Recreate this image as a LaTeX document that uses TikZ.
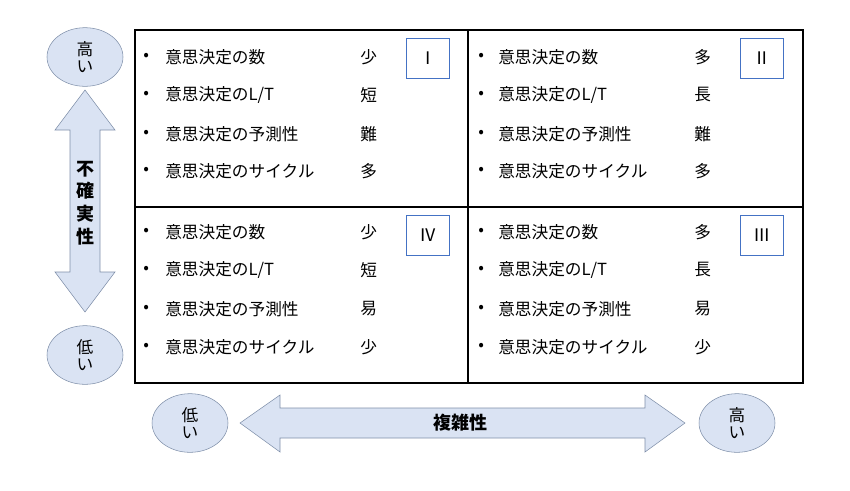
\documentclass[tikz,border=0pt]{standalone}
\usepackage{fontspec}
\usetikzlibrary{shapes.geometric}
\setmainfont{Noto Sans CJK JP}
\definecolor{lfill}{HTML}{DAE3F3}
\definecolor{ledge}{HTML}{7F8FA9}
\definecolor{rbox}{HTML}{4472C4}
\begin{document}
\begin{tikzpicture}[x=0.75pt,y=-0.75pt,
  txt/.style={anchor=west,font=\fontsize{12.5}{14}\selectfont,inner sep=0},
  rn/.style={draw=rbox,minimum width=32pt,minimum height=30pt,font=\fontsize{13}{14}\selectfont},
  oval/.style={ellipse,draw=ledge,fill=lfill,minimum width=57pt,minimum height=44pt,align=center,font=\fontsize{12.5}{13}\selectfont,inner sep=0},
  arr/.style={draw=ledge,fill=lfill}]
\useasboundingbox (0,0) rectangle (850,490);
\draw[thick] (135,30) rectangle (803,383);
\draw[thick] (468,30) -- (468,383);
\draw[thick] (135,207) -- (803,207);
\foreach \y/\lab/\val [count=\i] in {57/意思決定の数/少,95/意思決定のL\slash T/短,134/意思決定の予測性/難,171/意思決定のサイクル/多}{
  \node[txt] (tlb\i) at (143,\y) {•}; \node[txt] (tlt\i) at (165,\y) {\lab}; \node[txt] (tlv\i) at (360,\y) {\val};}
\foreach \y/\lab/\val [count=\i] in {57/意思決定の数/多,95/意思決定のL\slash T/長,134/意思決定の予測性/難,171/意思決定のサイクル/多}{
  \node[txt] (trb\i) at (478,\y) {•}; \node[txt] (trt\i) at (498,\y) {\lab}; \node[txt] (trv\i) at (694,\y) {\val};}
\foreach \y/\lab/\val [count=\i] in {232/意思決定の数/少,270/意思決定のL\slash T/短,309/意思決定の予測性/易,347/意思決定のサイクル/少}{
  \node[txt] (blb\i) at (143,\y) {•}; \node[txt] (blt\i) at (165,\y) {\lab}; \node[txt] (blv\i) at (360,\y) {\val};}
\foreach \y/\lab/\val [count=\i] in {232/意思決定の数/多,270/意思決定のL\slash T/長,309/意思決定の予測性/易,347/意思決定のサイクル/少}{
  \node[txt] (brb\i) at (478,\y) {•}; \node[txt] (brt\i) at (498,\y) {\lab}; \node[txt] (brv\i) at (694,\y) {\val};}
\node[rn] (r1) at (428,58) {Ⅰ};
\node[rn] (r2) at (762,58) {Ⅱ};
\node[rn] (r4) at (428,235) {Ⅳ};
\node[rn] (r3) at (762,235) {Ⅲ};
\node[oval] (hi1) at (85,57) {高\\い};
\node[oval] (lo1) at (85,355) {低\\い};
\node[oval] (lo2) at (190,423) {低\\い};
\node[oval] (hi2) at (737,423) {高\\い};
\draw[arr] (85,90) -- (115,130) -- (100,130) -- (100,272) -- (115,272) -- (85,312) -- (55,272) -- (70,272) -- (70,130) -- (55,130) -- cycle;
\node[align=center,font=\fontsize{13.5}{17}\selectfont\bfseries] (unc) at (85,203) {不\\確\\実\\性};
\draw[arr] (240,423) -- (280,395) -- (280,408) -- (645,408) -- (645,395) -- (685,423) -- (645,452) -- (645,438) -- (280,438) -- (280,452) -- cycle;
\node[font=\fontsize{13.5}{15}\selectfont\bfseries] (cx) at (460,423) {複雑性};
\end{tikzpicture}
\end{document}
